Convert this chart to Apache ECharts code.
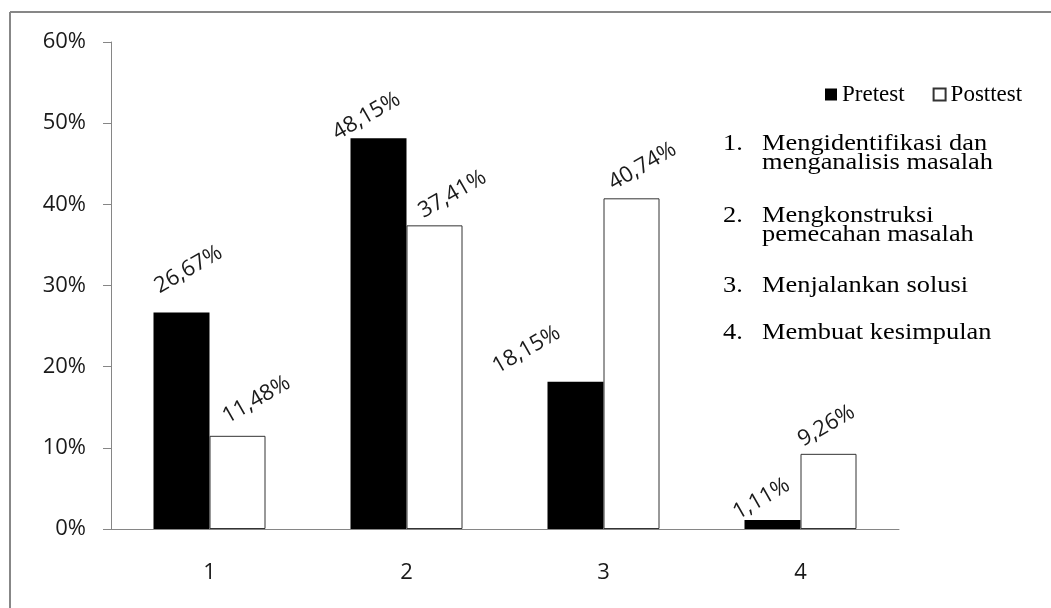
<!DOCTYPE html>
<html lang="id">
<head>
    <meta charset="UTF-8">
    <title>Pretest dan Posttest</title>
    <style>
        html, body { margin: 0; padding: 0; background: #fff; }
        #chart { width: 1051px; height: 608px; }
    </style>
    <script src="https://cdn.jsdelivr.net/npm/echarts@6.0.0/dist/echarts.min.js"></script>
</head>
<body>
    <div id="chart"></div>

    <script type="text/javascript">
        // data (percent)
        var categories = ['1', '2', '3', '4'];
        var pretest = [26.67, 48.15, 18.15, 1.11];
        var posttest = [11.48, 37.41, 40.74, 9.26];
        var yTicks = [0, 10, 20, 30, 40, 50, 60];

        // indicator list on the right
        var indicators = [
            'Mengidentifikasi dan\nmenganalisis masalah',
            'Mengkonstruksi\npemecahan masalah',
            'Menjalankan solusi',
            'Membuat kesimpulan'
        ];

        // hand nudges for the slanted labels, screen px from the bar top
        var preLabelShift = [[7, -43], [-12, -22], [-49, -32], [-11, -21]];
        var postLabelShift = [[19, -36], [18, -31], [11, -32], [-2, -28]];
        var LABEL_ROT = 30;

        function fmt(v) {
            return v.toFixed(2).replace('.', ',') + '%';
        }

        // label offset is applied in the rotated frame, so turn it back
        function toLocal(s) {
            var t = LABEL_ROT * Math.PI / 180;
            var c = Math.cos(t), n = Math.sin(t);
            return [s[0] * c - s[1] * n, s[0] * n + s[1] * c];
        }

        function withLabels(values, shifts) {
            return values.map(function (v, i) {
                return { value: v, label: { offset: toLocal(shifts[i]) } };
            });
        }

        var labelStyle = {
            show: true,
            position: 'top',
            distance: 0,
            rotate: LABEL_ROT,
            align: 'center',
            verticalAlign: 'middle',
            fontFamily: 'Open Sans',
            fontSize: 22,
            color: '#1a1a1a',
            formatter: function (p) { return fmt(p.value); }
        };

        var listTop = [134, 206, 276, 323];
        var listItems = [];
        indicators.forEach(function (txt, i) {
            listItems.push({
                type: 'text', x: 723, y: listTop[i], scaleX: 1.1,
                style: { text: (i + 1) + '.', fontFamily: 'Liberation Serif', fontSize: 24, fill: '#000', lineHeight: 19 }
            });
            listItems.push({
                type: 'text', x: 762, y: listTop[i], scaleX: 1.1,
                style: { text: txt, fontFamily: 'Liberation Serif', fontSize: 24, fill: '#000', lineHeight: 19 }
            });
        });

        var myChart = echarts.init(document.getElementById('chart'));
        var option = {
            animation: false,
            grid: { left: 111, right: 152, top: 42, bottom: 79 },
            legend: {
                left: 825,
                top: 83,
                padding: 0,
                itemWidth: 12,
                itemHeight: 12,
                itemGap: 28,
                icon: 'rect',
                textStyle: { fontFamily: 'Liberation Serif', fontSize: 23, color: '#000' },
                data: ['Pretest', 'Posttest']
            },
            xAxis: {
                type: 'category',
                data: categories,
                axisLine: { lineStyle: { color: '#868686', width: 1 } },
                axisTick: { alignWithLabel: false, length: 9, lineStyle: { color: '#868686' } },
                axisLabel: { margin: 33, fontFamily: 'Open Sans', fontSize: 22, color: '#1a1a1a' }
            },
            yAxis: {
                type: 'value',
                min: yTicks[0],
                max: yTicks[yTicks.length - 1],
                interval: 10,
                axisLine: { show: true, lineStyle: { color: '#868686', width: 1 } },
                axisTick: { show: true, length: 8, lineStyle: { color: '#868686' } },
                splitLine: { show: false },
                axisLabel: {
                    margin: 25,
                    fontFamily: 'Open Sans',
                    fontSize: 22,
                    color: '#1a1a1a',
                    formatter: '{value}%'
                }
            },
            series: [
                {
                    name: 'Pretest',
                    type: 'bar',
                    barWidth: 56,
                    barGap: '0%',
                    itemStyle: { color: '#000' },
                    label: labelStyle,
                    data: withLabels(pretest, preLabelShift)
                },
                {
                    name: 'Posttest',
                    type: 'bar',
                    barWidth: 56,
                    barGap: '0%',
                    itemStyle: { color: '#fff', borderColor: '#333', borderWidth: 1 },
                    label: labelStyle,
                    data: withLabels(posttest, postLabelShift)
                }
            ],
            graphic: [
                // frame of the original picture (top and left edges only)
                { type: 'line', shape: { x1: 10, y1: 12, x2: 1051, y2: 12 }, style: { stroke: '#878787', lineWidth: 2 } },
                { type: 'line', shape: { x1: 10, y1: 12, x2: 10, y2: 608 }, style: { stroke: '#878787', lineWidth: 2 } }
            ].concat(listItems)
        };
        myChart.setOption(option);
    </script>
</body>
</html>
